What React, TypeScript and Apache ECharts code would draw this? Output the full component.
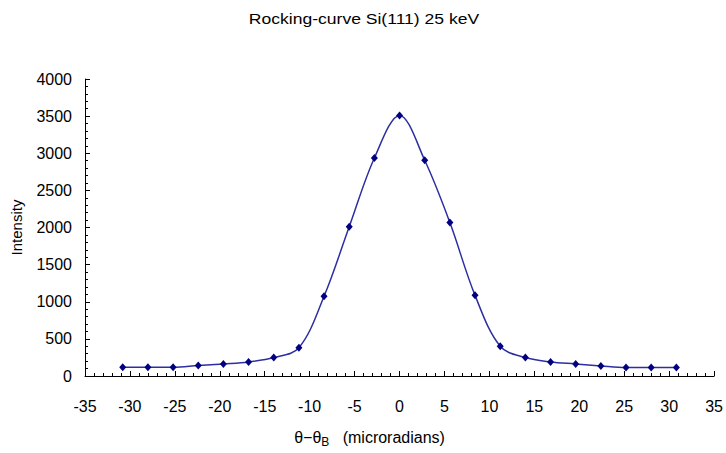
import React, { useEffect, useRef } from "react";
import * as echarts from "echarts";

const titleText = "Rocking-curve Si(111) 25 keV";
const thetaValues = [
  -30.8, -28, -25.2, -22.4, -19.6, -16.8, -14, -11.2, -8.4, -5.6, -2.8, 0,
  2.8, 5.6, 8.4, 11.2, 14, 16.8, 19.6, 22.4, 25.2, 28, 30.8,
];
const intensityValues = [
  119, 119, 119, 142, 163, 189, 248, 380, 1073, 2010, 2936, 3510,
  2905, 2066, 1086, 401, 248, 189, 163, 136, 115, 115, 115,
];
const xTicks = { min: -35, max: 35, interval: 5 };
const yTicks = { min: 0, max: 4000, interval: 500 };

export default function App() {
  const ref = useRef<HTMLDivElement>(null);
  useEffect(() => {
    if (!ref.current) return;
    const chart = echarts.init(ref.current, null, { renderer: "svg" });
    const font = "Liberation Sans, Arial, sans-serif";
    const data = thetaValues.map((t, i) => [t, intensityValues[i]]);
    chart.setOption({
      animation: false,
      backgroundColor: "#ffffff",
      graphic: [
        {
          type: "text",
          x: 364,
          y: 18,
          scaleX: 1.17,
          style: {
            text: titleText,
            font: `15px ${font}`,
            fill: "#000",
            textAlign: "center",
            textVerticalAlign: "middle",
          },
        },
      ],
      grid: { left: 85, right: 10, top: 79, bottom: 72, containLabel: false },
      xAxis: {
        type: "value",
        min: xTicks.min,
        max: xTicks.max,
        interval: xTicks.interval,
        splitLine: { show: false },
        axisLine: { onZero: false, lineStyle: { color: "#000", width: 1 } },
        axisTick: { inside: true, length: 5, lineStyle: { color: "#000" } },
        minorTick: { show: true, splitNumber: 5, length: 3, lineStyle: { color: "#000" } },
        axisLabel: { fontFamily: font, fontSize: 16, color: "#000", margin: 22 },
        name: "θ−θ{sub|B}   (microradians)",
        nameLocation: "middle",
        nameGap: 50,
        nameTextStyle: {
          fontFamily: font,
          fontSize: 16,
          color: "#000",
          padding: [0, 60, 0, 0],
          rich: { sub: { fontFamily: font, fontSize: 12, color: "#000", verticalAlign: "bottom", padding: [10, 0, 0, 0] } },
        },
      },
      yAxis: {
        type: "value",
        min: yTicks.min,
        max: yTicks.max,
        interval: yTicks.interval,
        splitLine: { show: false },
        axisLine: { show: true, onZero: false, lineStyle: { color: "#000", width: 1 } },
        axisTick: { show: true, inside: true, length: 5, lineStyle: { color: "#000" } },
        minorTick: { show: true, splitNumber: 5, length: 3, lineStyle: { color: "#000" } },
        axisLabel: { fontFamily: font, fontSize: 16, color: "#000", margin: 13, formatter: (v: number) => String(v) },
        name: "Intensity",
        nameLocation: "middle",
        nameGap: 61,
        nameTextStyle: { fontFamily: font, fontSize: 15, color: "#000" },
      },
      series: [
        {
          type: "line",
          data,
          smooth: 0.35,
          symbol: "diamond",
          symbolSize: [7, 8],
          lineStyle: { color: "#2e2ea3", width: 1.5 },
          itemStyle: { color: "#000080" },
        },
      ],
    });
    return () => chart.dispose();
  }, []);
  return <div ref={ref} style={{ width: 726, height: 453, position: "absolute", left: 0, top: 0 }} />;
}
